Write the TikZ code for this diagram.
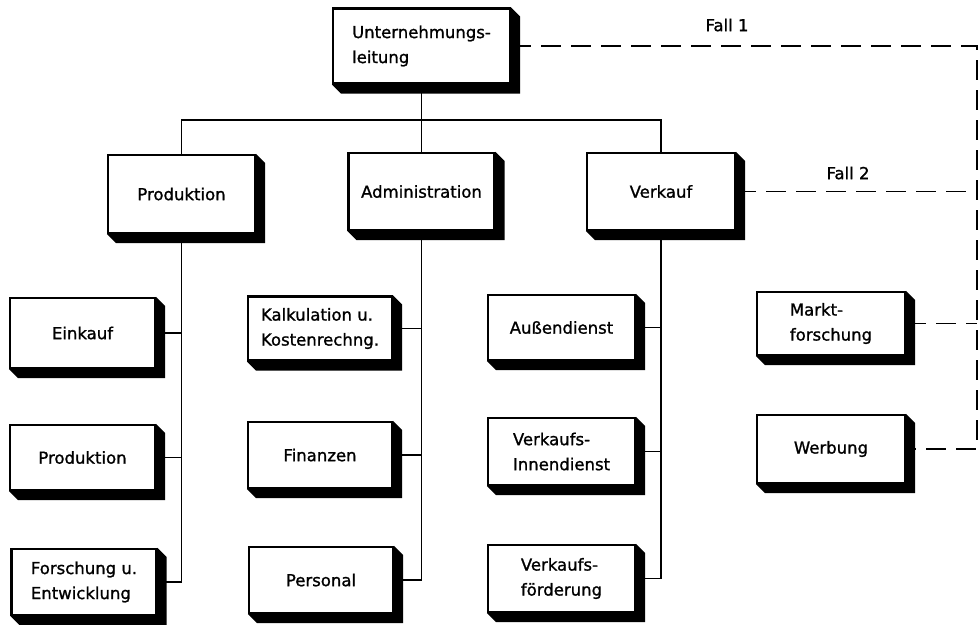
\documentclass[tikz,border=0pt]{standalone}
\usepackage{fontspec}
\setmainfont{DejaVu Sans}[FakeBold=1.2]
\usetikzlibrary{backgrounds}
\begin{document}
\begin{tikzpicture}[x=1pt,y=-1pt,
  unit/.style={draw, line width=2.2pt, fill=white, inner sep=0pt, align=left,
    font=\fontsize{16.5}{25}\selectfont},
  link/.style={line width=1.5pt},
  alt/.style={line width=1.5pt, dash pattern=on 20pt off 10pt},
  lab/.style={font=\fontsize{16.5}{20}\selectfont}
]
\useasboundingbox (0,0) rectangle (980,624);

% management
\node[unit, minimum width=177pt, minimum height=75pt] (top) at (421.5,46) {Unternehmungs-\\leitung};

% departments
\node[unit, minimum width=147pt, minimum height=78pt] (p2) at (181.5,194) {Produktion};
\node[unit, minimum width=146pt, minimum height=77pt] (a2) at (421.5,191.5) {Administration};
\node[unit, minimum width=148pt, minimum height=77pt] (v2) at (661,191.5) {Verkauf};

% production units
\node[unit, minimum width=145pt, minimum height=70pt] (c11) at (82.5,333) {Einkauf};
\node[unit, minimum width=145pt, minimum height=65pt] (c12) at (82.5,457.5) {Produktion};
\node[unit, minimum width=145pt, minimum height=66pt] (c13) at (84,582) {Forschung u.\\Entwicklung};

% administration units
\node[unit, minimum width=144pt, minimum height=64pt] (c21) at (320,328.5) {Kalkulation u.\\Kostenrechng.};
\node[unit, minimum width=144pt, minimum height=66pt] (c22) at (320,455) {Finanzen};
\node[unit, minimum width=144pt, minimum height=66pt] (c23) at (321,580) {Personal};

% sales units
\node[unit, minimum width=147pt, minimum height=65pt] (c31) at (561.5,327.5) {Außendienst};
\node[unit, minimum width=147pt, minimum height=67pt] (c32) at (561.5,451.5) {Verkaufs-\\Innendienst};
\node[unit, minimum width=147pt, minimum height=67pt] (c33) at (561.5,578.5) {Verkaufs-\\förderung};

% staff units
\node[unit, minimum width=148pt, minimum height=63pt] (m1) at (831,323.5) {Markt-\\forschung};
\node[unit, minimum width=148pt, minimum height=68pt] (m2) at (831,449) {Werbung};

% drop shadows with chamfered corners
\begin{scope}[on background layer]
  \foreach \n in {top,p2,a2,v2,c11,c12,c13,c21,c22,c23,c31,c32,c33,m1,m2}
    \fill (\n.north east) -- ++(9,9) -- ([shift={(9,9)}]\n.south east)
          -- ([shift={(9,9)}]\n.south west) -- (\n.south west) -- cycle;
\end{scope}

% line organisation
\coordinate (bus) at (421.5,120);
\draw[link] (top.south) -- (bus);
\draw[link] (p2.north) |- (bus) -| (v2.north);
\draw[link] (bus) -- (a2.north);

\draw[link] (p2.south) |- (c13.east);
\draw[link] (c11.east) -- (c11.east -| p2.south);
\draw[link] (c12.east) -- (c12.east -| p2.south);

\draw[link] (a2.south) |- (c23.east);
\draw[link] (c21.east) -- (c21.east -| a2.south);
\draw[link] (c22.east) -- (c22.east -| a2.south);

\draw[link] (v2.south) |- (c33.east);
\draw[link] (c31.east) -- (c31.east -| v2.south);
\draw[link] (c32.east) -- (c32.east -| v2.south);

% staff attachment, case 1 and case 2
\coordinate (rail) at (977,0);
\draw[alt] (top.east) -| (rail |- m2.east) -- (m2.east);
\draw[alt] (v2.east) -- (v2.east -| rail);
\draw[alt] (m1.east) -- (m1.east -| rail);

\node[lab] (f1) at (727,25) {Fall 1};
\node[lab] (f2) at (848,173) {Fall 2};
\end{tikzpicture}
\end{document}
